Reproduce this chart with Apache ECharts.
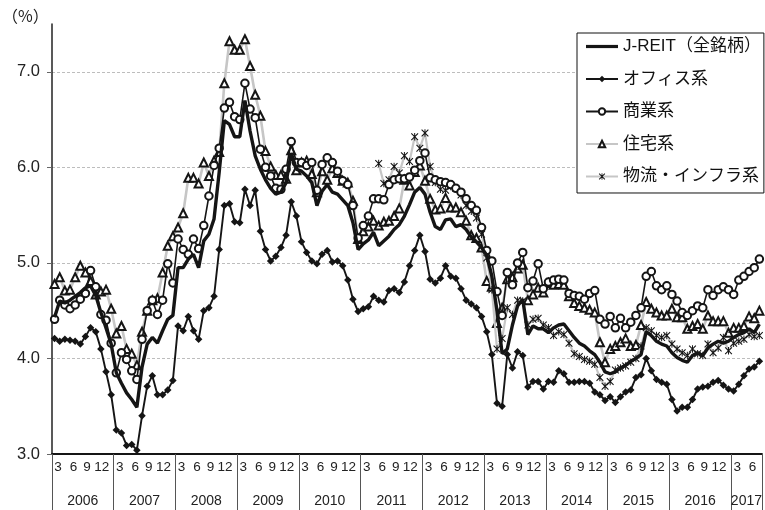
<!DOCTYPE html>
<html>
<head>
<meta charset="utf-8">
<script src="https://cdn.jsdelivr.net/npm/echarts@6/dist/echarts.min.js"></script>
<style>
  html, body { margin: 0; padding: 0; background: #fff; }
  #chart { width: 765px; height: 510px; }
</style>
</head>
<body>
<div id="chart"></div>
<script>
// Monthly categories: Jan 2006 – Jun 2017
const firstYear = 2006;
const lastYear = 2017;
const lastYearMonths = 6;
const months = [];
for (let y = firstYear; y <= lastYear; y++) {
  const n = y === lastYear ? lastYearMonths : 12;
  for (let m = 1; m <= n; m++) months.push(y + '/' + m);
}
const quarterMonths = [3, 6, 9, 12];

const seriesNames = ['J-REIT（全銘柄）', 'オフィス系', '商業系', '住宅系', '物流・インフラ系'];

// Yields (%), one value per month
const jreit = [
  4.43, 4.60, 4.58, 4.61, 4.65, 4.69, 4.74, 4.76, 4.66, 4.48, 4.32, 4.15,
  3.85, 3.74, 3.64, 3.57, 3.49, 3.91, 4.15, 4.22, 4.16, 4.29, 4.41, 4.45,
  4.95, 4.95, 5.04, 5.09, 4.95, 5.23, 5.30, 5.46, 5.95, 6.49, 6.45, 6.32,
  6.32, 6.70, 6.38, 6.12, 5.98, 5.87, 5.78, 5.72, 5.74, 5.84, 6.15, 5.98,
  5.96, 5.91, 5.84, 5.60, 5.75, 5.82, 5.74, 5.72, 5.66, 5.60, 5.42, 5.14,
  5.20, 5.24, 5.32, 5.18, 5.23, 5.28, 5.35, 5.40, 5.49, 5.61, 5.74, 5.79,
  5.72, 5.53, 5.38, 5.35, 5.45, 5.46, 5.38, 5.40, 5.35, 5.27, 5.22, 5.16,
  5.08, 4.86, 4.50, 4.05, 4.10, 4.35, 4.55, 4.62, 4.25, 4.34, 4.31, 4.31,
  4.27, 4.32, 4.35, 4.36, 4.29, 4.22, 4.16, 4.13, 4.08, 4.04, 3.96, 3.86,
  3.84, 3.86, 3.90, 3.93, 3.97, 4.00, 4.04, 4.28, 4.24, 4.18, 4.15, 4.13,
  4.06, 4.01, 3.98, 3.96, 4.03, 4.06, 4.03, 4.11, 4.15, 4.18, 4.16, 4.18,
  4.22, 4.25, 4.27, 4.31, 4.27, 4.36
];
const office = [
  4.21, 4.18, 4.20, 4.19, 4.18, 4.15, 4.23, 4.32, 4.28, 4.10, 3.86, 3.62,
  3.25, 3.22, 3.09, 3.10, 3.04, 3.40, 3.71, 3.82, 3.62, 3.62, 3.67, 3.77,
  4.34, 4.29, 4.44, 4.29, 4.20, 4.50, 4.53, 4.65, 5.14, 5.60, 5.62, 5.43,
  5.42, 5.77, 5.60, 5.76, 5.33, 5.14, 5.02, 5.07, 5.16, 5.29, 5.64, 5.49,
  5.22, 5.11, 5.02, 4.99, 5.09, 5.13, 5.01, 5.02, 4.97, 4.82, 4.62, 4.49,
  4.52, 4.54, 4.65, 4.61, 4.59, 4.71, 4.73, 4.69, 4.80, 4.97, 5.13, 5.29,
  5.12, 4.83, 4.79, 4.84, 4.97, 4.86, 4.84, 4.73, 4.61, 4.57, 4.53, 4.44,
  4.28, 4.04, 3.53, 3.50, 4.04, 3.90, 4.07, 4.03, 3.70, 3.76, 3.76, 3.68,
  3.76, 3.75, 3.87, 3.84, 3.75, 3.75, 3.76, 3.76, 3.74, 3.65, 3.62, 3.56,
  3.60, 3.54, 3.60, 3.65, 3.67, 3.80, 3.83, 4.00, 3.87, 3.78, 3.75, 3.73,
  3.57, 3.45, 3.49, 3.49, 3.57, 3.68, 3.70, 3.71, 3.75, 3.77, 3.72, 3.68,
  3.66, 3.73, 3.82, 3.89, 3.91, 3.97
];
const retail = [
  4.41, 4.61, 4.56, 4.52, 4.56, 4.62, 4.68, 4.92, 4.75, 4.46, 4.40, 4.16,
  3.85, 4.06, 3.99, 3.87, 3.78, 4.20, 4.50, 4.61, 4.46, 4.61, 4.99, 4.79,
  5.25, 5.14, 5.09, 5.25, 5.15, 5.39, 5.70, 6.02, 6.20, 6.62, 6.68, 6.53,
  6.50, 6.88, 6.61, 6.52, 6.19, 6.00, 5.91, 5.78, 5.77, 5.98, 6.27, 6.05,
  6.05, 6.02, 6.05, 5.76, 6.03, 6.10, 6.05, 5.96, 5.86, 5.82, 5.60, 5.26,
  5.39, 5.49, 5.67, 5.67, 5.66, 5.82, 5.87, 5.88, 5.88, 5.90, 5.97, 6.07,
  6.15, 5.89, 5.87, 5.85, 5.84, 5.82, 5.78, 5.74, 5.67, 5.60, 5.55, 5.37,
  5.13, 5.02, 4.70, 4.45, 4.90, 4.77, 5.00, 5.11, 4.74, 4.81, 4.99, 4.73,
  4.80, 4.82, 4.83, 4.82, 4.68, 4.66, 4.65, 4.62, 4.68, 4.71, 4.41, 4.36,
  4.44, 4.32, 4.42, 4.32, 4.38, 4.45, 4.53, 4.86, 4.91, 4.76, 4.72, 4.76,
  4.67, 4.60, 4.48, 4.45, 4.50, 4.55, 4.53, 4.72, 4.66, 4.72, 4.75, 4.72,
  4.67, 4.82, 4.86, 4.91, 4.95, 5.04
];
const residential = [
  4.78, 4.85, 4.71, 4.72, 4.85, 4.97, 4.90, 4.81, 4.67, 4.70, 4.72, 4.52,
  4.26, 4.34, 4.10, 4.05, 3.93, 4.28, 4.50, 4.61, 4.63, 4.90, 5.18, 5.28,
  5.37, 5.52, 5.89, 5.89, 5.83, 6.05, 5.91, 6.07, 6.16, 6.88, 7.32, 7.23,
  7.23, 7.34, 7.06, 6.76, 6.54, 6.17, 6.01, 5.92, 5.92, 5.88, 6.18, 5.97,
  6.05, 6.07, 5.93, 5.74, 5.96, 5.87, 5.99, 5.94, 5.86, 5.84, 5.65, 5.25,
  5.33, 5.38, 5.44, 5.39, 5.43, 5.44, 5.49, 5.57, 5.87, 5.81, 5.95, 6.02,
  5.86, 5.67, 5.56, 5.57, 5.68, 5.58, 5.58, 5.53, 5.44, 5.29, 5.26, 5.16,
  4.81, 4.75, 4.37, 4.53, 4.83, 4.85, 4.94, 4.98, 4.61, 4.67, 4.74, 4.69,
  4.79, 4.77, 4.78, 4.77, 4.65, 4.58, 4.55, 4.53, 4.51, 4.48, 4.17, 3.96,
  4.10, 4.13, 4.17, 4.21, 4.13, 4.14, 4.35, 4.59, 4.52, 4.48, 4.45, 4.45,
  4.52, 4.43, 4.43, 4.31, 4.34, 4.36, 4.31, 4.45, 4.39, 4.39, 4.39, 4.27,
  4.32, 4.32, 4.34, 4.44, 4.42, 4.50
];
// Logistics / infrastructure index begins in April 2011
const logisticsStart = '2011/4';
const logistics = [
                    6.04, 5.83, 5.87, 6.01, 5.94, 6.12, 6.06, 6.32, 6.20,
  6.36, 6.01, 5.84, 5.77, 5.76, 5.80, 5.78, 5.71, 5.60, 5.54, 5.47, 5.30,
  5.05, 4.72, 4.10, 4.21, 4.53, 4.46, 4.61, 4.60, 4.35, 4.41, 4.42, 4.35,
  4.32, 4.24, 4.28, 4.25, 4.16, 4.05, 4.02, 3.99, 3.97, 3.94, 3.80, 3.71,
  3.76, 3.88, 3.90, 3.92, 3.96, 4.00, 4.13, 4.32, 4.29, 4.24, 4.22, 4.24,
  4.15, 4.10, 4.06, 4.03, 4.10, 4.05, 4.03, 4.15, 4.06, 4.11, 4.22, 4.08,
  4.16, 4.18, 4.20, 4.25, 4.23, 4.24
];

const yMin = 3.0, yMax = 7.5, yStep = 1.0;

const logisticsData = months.map(function () { return null; });
const startIdx = months.indexOf(logisticsStart);
logistics.forEach(function (v, k) { logisticsData[startIdx + k] = v; });

const monthOf = function (i) { return +months[i].split('/')[1]; };
const yearOf = function (i) { return +months[i].split('/')[0]; };

const FONT = '"Liberation Sans", "Noto Sans CJK JP", sans-serif';
const BLACK = '#151515';
const GREY = '#c6c6c6';
const starPath = 'path://M1,0L5,4L9,0L10,1L6,5L10,9L9,10L5,6L1,10L0,9L4,5L0,1Z M4.35,0H5.65V10H4.35Z';

// month tick label styles (right-aligned under the quarter-end month)
const monthRich = {
  q3: { padding: [0, 3, 0, 0] },
  q6: { padding: [0, 3, 0, 0] },
  q9: { padding: [0, 5, 0, 0] },
  q12: { padding: [0, 2, 0, 0] }
};

const chart = echarts.init(document.getElementById('chart'), null, { renderer: 'canvas' });

const lineBase = {
  type: 'line',
  xAxisIndex: 0,
  yAxisIndex: 0,
  showAllSymbol: true,
  connectNulls: false,
  animation: false,
  emphasis: { disabled: true }
};

chart.setOption({
  animation: false,
  backgroundColor: '#fff',
  textStyle: { fontFamily: FONT },
  title: {
    text: '（%）',
    left: -3,
    top: 3,
    textStyle: { fontSize: 16, fontWeight: 'normal', color: '#222', fontFamily: '"Noto Sans CJK JP", sans-serif' }
  },
  grid: { left: 52, right: 0, top: 24, bottom: 56, containLabel: false },
  legend: {
    left: 577,
    top: 33,
    orient: 'vertical',
    selectedMode: false,
    backgroundColor: '#fff',
    borderColor: '#111',
    borderWidth: 1,
    borderRadius: 0,
    padding: [5, 3, 8, 8],
    itemWidth: 32,
    itemHeight: 8,
    itemGap: 15.5,
    textStyle: { fontSize: 17, color: '#111', fontFamily: FONT },
    data: [
      { name: seriesNames[0], icon: 'path://M0,0H32V3.2H0Z' },
      { name: seriesNames[1] },
      { name: seriesNames[2] },
      { name: seriesNames[3] },
      { name: seriesNames[4] }
    ]
  },
  xAxis: [
    {
      type: 'category',
      data: months,
      boundaryGap: true,
      position: 'bottom',
      axisLine: { show: true, onZero: false, lineStyle: { color: BLACK, width: 2 } },
      axisTick: {
        show: true,
        length: 56,
        interval: function (i) { return monthOf(i) === 1; },
        lineStyle: { color: '#555', width: 1 }
      },
      axisLabel: {
        interval: function (i) { return quarterMonths.indexOf(monthOf(i)) >= 0; },
        formatter: function (v) {
          const m = v.split('/')[1];
          return '{q' + m + '|' + m + '}';
        },
        rich: monthRich,
        align: 'right',
        margin: 7,
        fontSize: 13.5,
        color: '#222',
        fontFamily: FONT
      },
      splitLine: { show: false }
    },
    {
      type: 'category',
      data: months,
      boundaryGap: true,
      position: 'bottom',
      axisLine: { show: false },
      axisTick: { show: false },
      axisLabel: {
        interval: function (i) {
          const y = yearOf(i), m = monthOf(i);
          return y === lastYear ? m === lastYearMonths / 2 : m === 6;
        },
        formatter: function (v) { return v.split('/')[0]; },
        align: 'center',
        padding: [0, 0, 0, 5],
        margin: 40,
        fontSize: 14,
        color: '#222',
        fontFamily: FONT
      },
      splitLine: { show: false }
    }
  ],
  yAxis: {
    type: 'value',
    min: yMin,
    max: yMax,
    interval: yStep,
    axisLine: { show: true, lineStyle: { color: '#222', width: 1.5 } },
    axisTick: { show: true, length: 5, lineStyle: { color: '#666', width: 1 } },
    axisLabel: {
      formatter: function (v) { return v.toFixed(1); },
      showMaxLabel: false,
      margin: 12,
      fontSize: 16.5,
      color: '#222',
      fontFamily: FONT
    },
    splitLine: {
      show: true,
      showMinLine: false,
      showMaxLine: false,
      lineStyle: { color: '#bdbdbd', type: [3, 2], width: 1 }
    }
  },
  series: [
    Object.assign({}, lineBase, {
      name: seriesNames[3],
      data: residential,
      z: 2,
      symbol: 'emptyTriangle',
      symbolSize: 8,
      lineStyle: { color: GREY, width: 2.6 },
      itemStyle: { color: BLACK, borderColor: BLACK, borderWidth: 1.1 }
    }),
    Object.assign({}, lineBase, {
      name: seriesNames[4],
      data: logisticsData,
      z: 3,
      symbol: starPath,
      symbolSize: 7.5,
      lineStyle: { color: GREY, width: 2.2 },
      itemStyle: { color: BLACK }
    }),
    Object.assign({}, lineBase, {
      name: seriesNames[2],
      data: retail,
      z: 4,
      symbol: 'emptyCircle',
      symbolSize: 7.5,
      lineStyle: { color: BLACK, width: 1.6 },
      itemStyle: { color: BLACK, borderColor: BLACK, borderWidth: 1.1 }
    }),
    Object.assign({}, lineBase, {
      name: seriesNames[1],
      data: office,
      z: 5,
      symbol: 'diamond',
      symbolSize: 7.5,
      lineStyle: { color: BLACK, width: 1.9 },
      itemStyle: { color: BLACK }
    }),
    Object.assign({}, lineBase, {
      name: seriesNames[0],
      data: jreit,
      z: 6,
      symbol: 'none',
      lineStyle: { color: BLACK, width: 3.4 },
      itemStyle: { color: BLACK }
    })
  ]
});
</script>
</body>
</html>
